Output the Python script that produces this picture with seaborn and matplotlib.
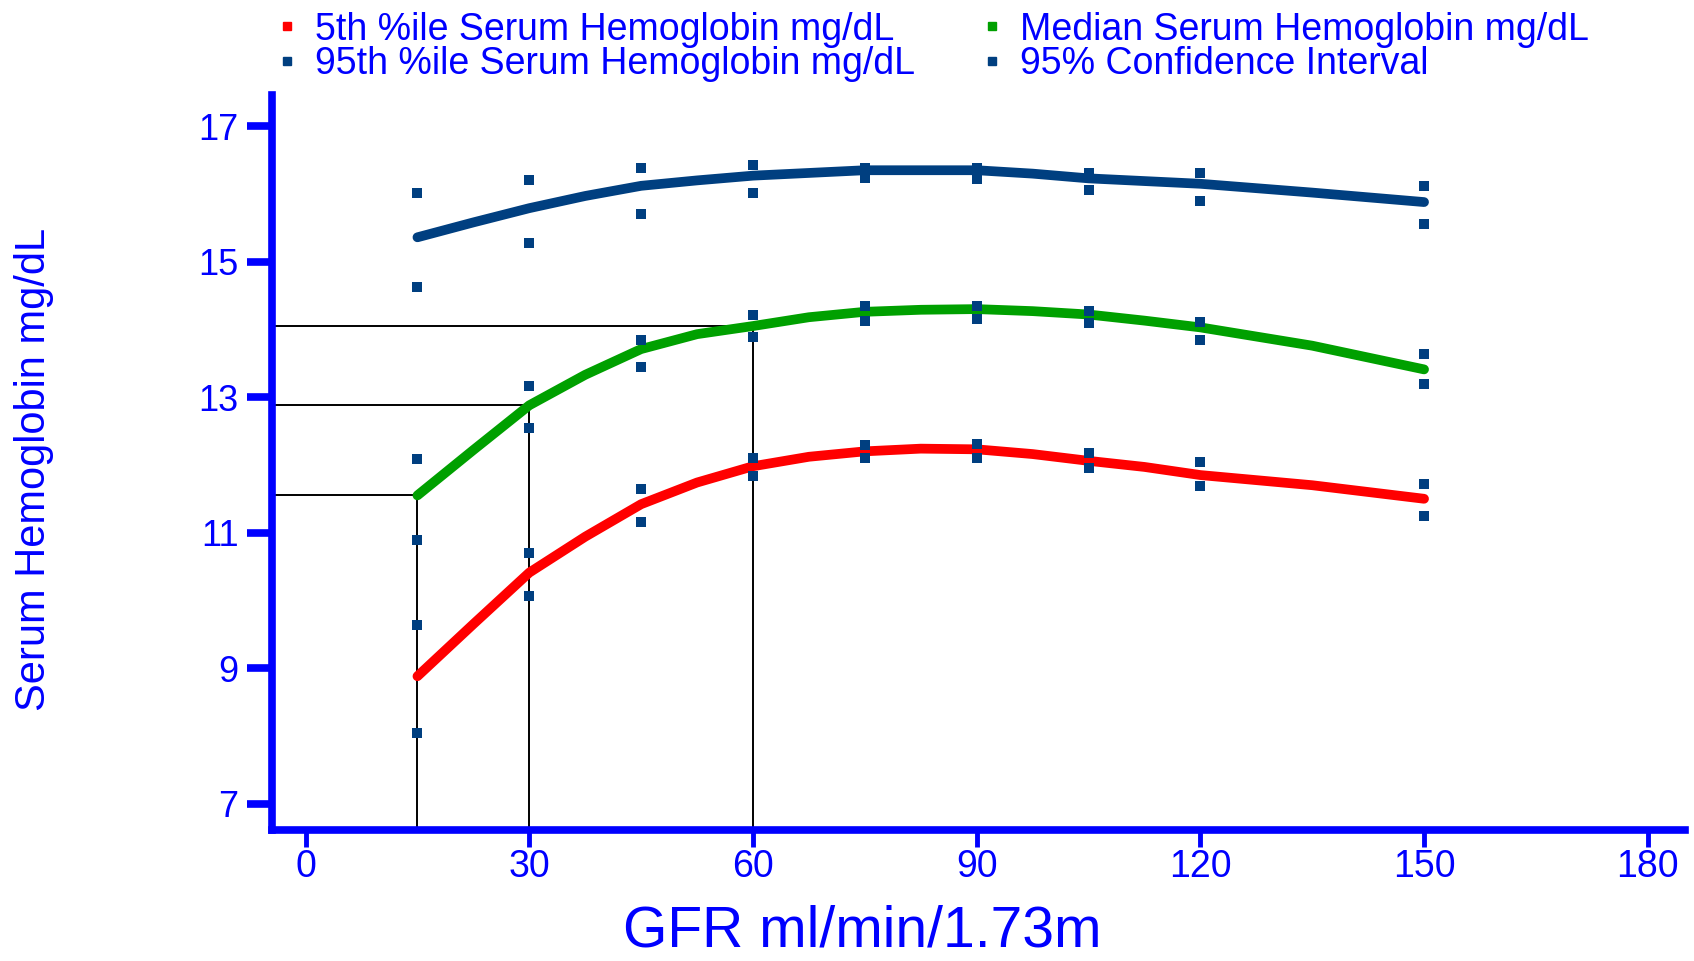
import numpy as np
import pandas as pd
import seaborn as sns
import matplotlib.pyplot as plt
from matplotlib.lines import Line2D

# GFR positions of the smooth percentile curves
gfr = [15, 22.5, 30, 37.5, 45, 52.5, 60, 67.5, 75, 82.5, 90, 97.5, 105, 112.5, 120, 135, 150]
p5 = [8.88, 9.65, 10.41, 10.94, 11.42, 11.74, 11.98, 12.12, 12.20, 12.24, 12.23, 12.16, 12.06, 11.97, 11.85, 11.70, 11.50]
median = [11.55, 12.22, 12.88, 13.33, 13.71, 13.93, 14.05, 14.18, 14.26, 14.29, 14.30, 14.27, 14.22, 14.13, 14.03, 13.76, 13.41]
p95 = [15.36, 15.58, 15.79, 15.97, 16.12, 16.20, 16.27, 16.31, 16.35, 16.35, 16.35, 16.30, 16.23, 16.19, 16.15, 16.02, 15.88]

# 95% confidence interval points
ci_gfr = [15, 30, 45, 60, 75, 90, 105, 120, 150]
p5_hi = [9.63, 10.70, 11.64, 12.10, 12.30, 12.31, 12.18, 12.04, 11.72]
p5_lo = [8.04, 10.06, 11.16, 11.83, 12.10, 12.10, 11.96, 11.69, 11.24]
med_hi = [12.09, 13.17, 13.84, 14.21, 14.34, 14.34, 14.27, 14.11, 13.63]
med_lo = [10.89, 12.55, 13.44, 13.89, 14.13, 14.15, 14.10, 13.84, 13.19]
p95_hi = [16.01, 16.20, 16.39, 16.43, 16.39, 16.39, 16.31, 16.31, 16.11]
p95_lo = [14.62, 15.28, 15.71, 16.01, 16.23, 16.22, 16.06, 15.90, 15.56]

# GFR values marked with the black guide lines
ref_gfr = [15, 30, 60]

x_ticks = [0, 30, 60, 90, 120, 150, 180]
y_ticks = [7, 9, 11, 13, 15, 17]

labels = ["5th %ile Serum Hemoglobin mg/dL", "Median Serum Hemoglobin mg/dL",
          "95th %ile Serum Hemoglobin mg/dL", "95% Confidence Interval"]

sns.set_style("white")
plt.rcParams['font.family'] = ['Liberation Sans', 'DejaVu Sans']

blue = "#0000FF"
navy = "#003F80"
colors = {labels[0]: "#FF0000", labels[1]: "#00A000", labels[2]: navy}

curves = pd.concat([
    pd.DataFrame({"gfr": gfr, "hb": p5, "series": labels[0]}),
    pd.DataFrame({"gfr": gfr, "hb": median, "series": labels[1]}),
    pd.DataFrame({"gfr": gfr, "hb": p95, "series": labels[2]}),
])
ci = pd.DataFrame({
    "gfr": ci_gfr * 6,
    "hb": p5_hi + p5_lo + med_hi + med_lo + p95_hi + p95_lo,
})

fig = plt.figure(figsize=(16.94, 9.61), dpi=100)
ax = fig.add_axes([0.1606, 0.1363, 0.8341, 0.7648])

xmin, xmax = -4.5, 185
ymin, ymax = 6.61, 17.46

# guide lines
for g in ref_gfr:
    y = median[gfr.index(g)]
    ax.plot([xmin, g], [y, y], color="black", lw=1.4, zorder=1)
    ax.plot([g, g], [ymin, y], color="black", lw=1.4, zorder=1)

sns.lineplot(data=curves, x="gfr", y="hb", hue="series", palette=colors,
             linewidth=7, estimator=None, sort=False, legend=False, ax=ax, zorder=2)
sns.scatterplot(data=ci, x="gfr", y="hb", marker="s", s=50, color=navy,
                linewidth=0, ax=ax, zorder=3)

ax.set_xlim(xmin, xmax)
ax.set_ylim(ymin, ymax)
ax.set_xticks(x_ticks)
ax.set_yticks(y_ticks)

for s in ["top", "right"]:
    ax.spines[s].set_visible(False)
for s in ["left", "bottom"]:
    ax.spines[s].set_color(blue)
    ax.spines[s].set_linewidth(5.5)

ax.tick_params(axis="y", direction="out", left=True, length=18, width=5.5, color=blue,
               labelcolor=blue, labelsize=26, pad=6)
ax.tick_params(axis="x", direction="out", bottom=True, length=12, width=3.5, color=blue,
               labelcolor=blue, labelsize=27, pad=2)

ax.set_xlabel("GFR ml/min/1.73m", fontsize=41, color=blue)
ax.xaxis.set_label_coords(0.4176, -0.102)
ax.set_ylabel("Serum Hemoglobin mg/dL", fontsize=30, color=blue)
ax.yaxis.set_label_coords(-0.154, 0.49)

handles = [Line2D([], [], marker="s", ls="none", ms=6, color=c)
           for c in ["#FF0000", navy, "#00A000", navy]]
leg_labels = [labels[0], labels[2], labels[1], labels[3]]
fig.legend(handles, leg_labels, ncol=2, loc="upper left", bbox_to_anchor=(0.163, 0.988),
           frameon=False, fontsize=27, labelcolor=blue, handlelength=0.6,
           handletextpad=0.45, columnspacing=1.75, labelspacing=-0.05,
           borderpad=0, borderaxespad=0)

fig.savefig("out.png", dpi=100)
